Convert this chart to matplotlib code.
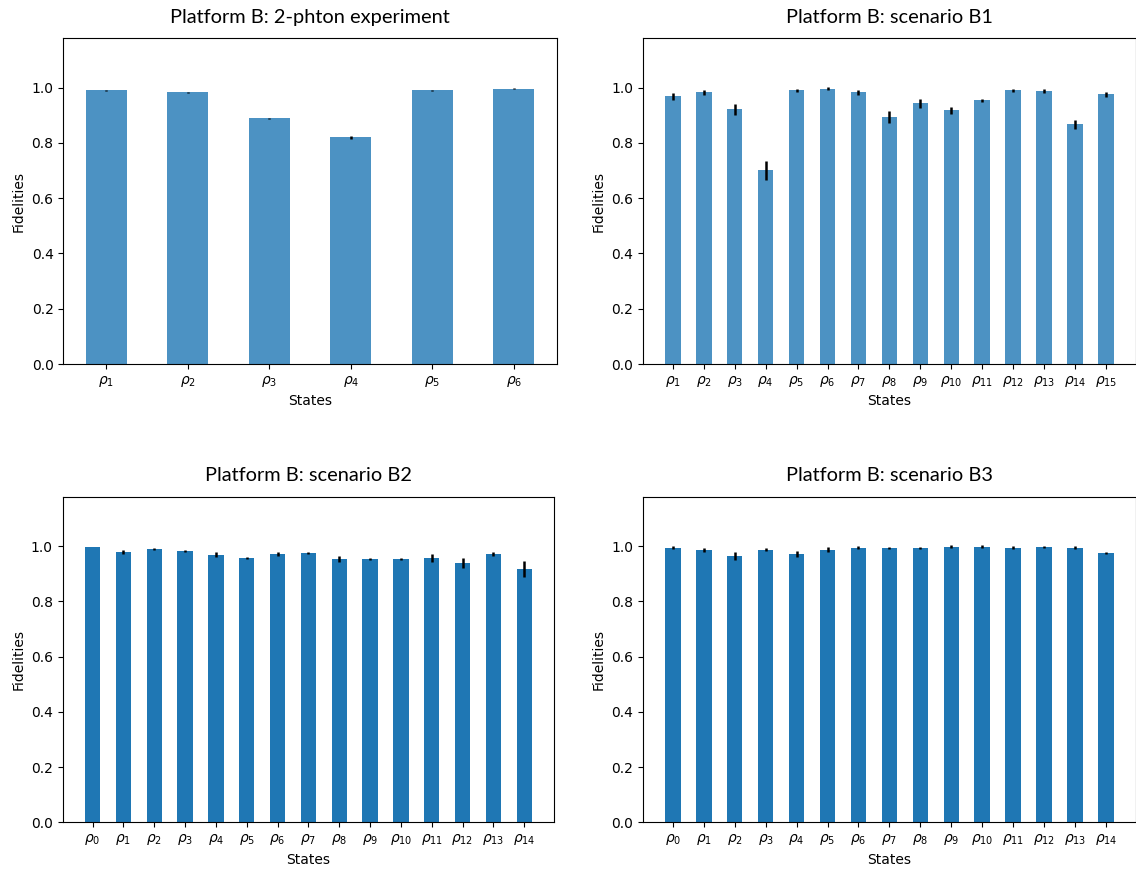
import matplotlib
matplotlib.use("Agg")
import matplotlib.pyplot as plt
import numpy as np

# --- data ---
titles = ["Platform B: 2-phton experiment", "Platform B: scenario B1",
          "Platform B: scenario B2", "Platform B: scenario B3"]

labels_exp = [r"$\rho_{%d}$" % i for i in range(1, 7)]
fid_exp = [0.990, 0.983, 0.889, 0.821, 0.990, 0.997]
err_exp = [0.002, 0.002, 0.003, 0.005, 0.002, 0.001]

labels_b1 = [r"$\rho_{%d}$" % i for i in range(1, 16)]
fid_b1 = [0.969, 0.983, 0.922, 0.701, 0.990, 0.997, 0.983, 0.893,
          0.943, 0.918, 0.954, 0.990, 0.987, 0.867, 0.976]
err_b1 = [0.013, 0.008, 0.019, 0.034, 0.007, 0.005, 0.010, 0.021,
          0.017, 0.013, 0.005, 0.004, 0.007, 0.017, 0.009]

labels_b2 = [r"$\rho_{%d}$" % i for i in range(0, 15)]
fid_b2 = [0.997, 0.980, 0.990, 0.983, 0.969, 0.958, 0.972, 0.976,
          0.954, 0.954, 0.954, 0.958, 0.940, 0.972, 0.918]
err_b2 = [0.001, 0.007, 0.002, 0.005, 0.009, 0.004, 0.007, 0.004,
          0.011, 0.003, 0.005, 0.014, 0.018, 0.006, 0.028]

labels_b3 = [r"$\rho_{%d}$" % i for i in range(0, 15)]
fid_b3 = [0.994, 0.987, 0.965, 0.987, 0.972, 0.987, 0.994, 0.994,
          0.994, 0.998, 0.998, 0.994, 0.998, 0.994, 0.976]
err_b3 = [0.005, 0.007, 0.014, 0.006, 0.011, 0.009, 0.005, 0.004,
          0.003, 0.005, 0.005, 0.005, 0.003, 0.005, 0.004]

panels = [
    (labels_exp, fid_exp, err_exp, 0.8),
    (labels_b1, fid_b1, err_b1, 0.8),
    (labels_b2, fid_b2, err_b2, 1.0),
    (labels_b3, fid_b3, err_b3, 1.0),
]

fig = plt.figure(figsize=(11.36, 8.71), dpi=100)
W, H = 1136, 871
boxes = [(63.3, 38, 556.7, 364), (642.7, 38, 1136.1, 364),
         (62.5, 496.5, 554.3, 822.3), (642.7, 496.5, 1136.1, 822.3)]

for (lab, fid, err, alpha), title, (x0, y0, x1, y1) in zip(panels, titles, boxes):
    ax = fig.add_axes([x0 / W, 1 - y1 / H, (x1 - x0) / W, (y1 - y0) / H])
    x = np.arange(len(lab))
    ax.bar(x, fid, width=0.5, color="#1f77b4", alpha=alpha,
           yerr=err, error_kw=dict(ecolor="black", elinewidth=1.8, capsize=0))
    ax.set_ylim(0, 1.18)
    ax.set_yticks([0, 0.2, 0.4, 0.6, 0.8, 1.0])
    ax.set_xticks(x)
    ax.set_xticklabels(lab, fontsize=10)
    ax.set_xlabel("States", fontsize=10, labelpad=4)
    ax.set_ylabel("Fidelities", fontsize=10)
    ax.set_title(title, fontsize=14.4, family="Lato", pad=11)

fig.savefig("out.png", dpi=100)
